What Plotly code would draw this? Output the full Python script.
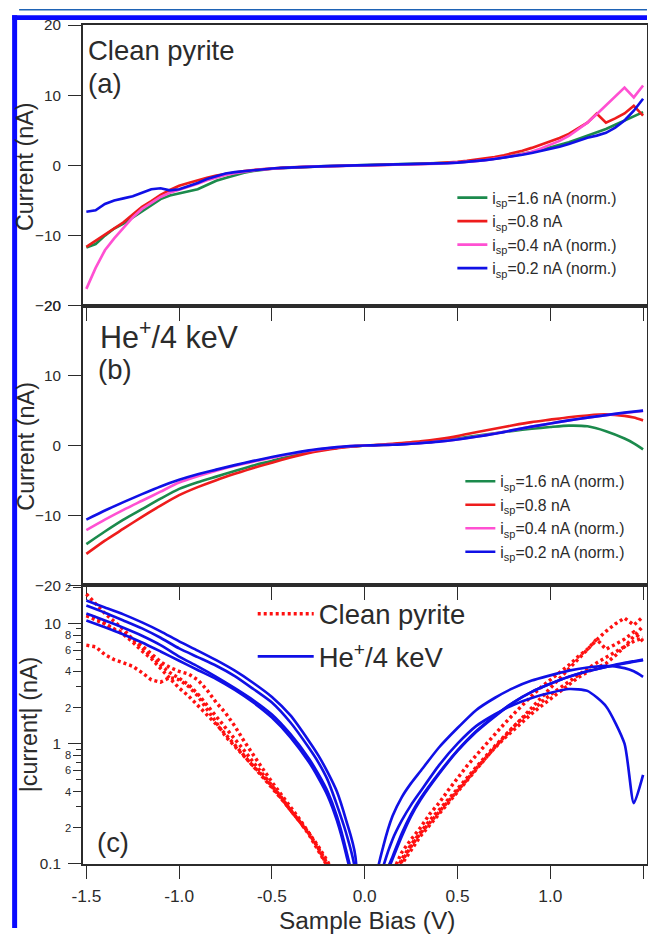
import math
import plotly.graph_objects as go

# ---------------- data ----------------
# Bias grid for the clean-surface spectra (V)
V_CLEAN = [-1.50, -1.45, -1.40, -1.35, -1.30, -1.25, -1.20, -1.15, -1.10, -1.05,
           -1.00, -0.95, -0.90, -0.85, -0.80, -0.75, -0.70, -0.65, -0.60, -0.55,
           -0.50, -0.45, -0.40, -0.35, -0.30, -0.25, -0.20, -0.15, -0.10, -0.05,
           0.00, 0.05, 0.10, 0.15, 0.20, 0.25, 0.30, 0.35, 0.40, 0.45,
           0.50, 0.55, 0.60, 0.65, 0.70, 0.75, 0.80, 0.85, 0.90, 0.95,
           1.00, 1.05, 1.10, 1.15, 1.20, 1.25, 1.30, 1.35, 1.40, 1.45, 1.50]

CLEAN_16 = [-11.7, -11.2, -10.0, -9.0, -8.3, -7.4, -6.5, -5.6, -4.8, -4.3,
            -4.0, -3.8, -3.4, -2.8, -2.2, -1.8, -1.4, -1.05, -0.8, -0.62,
            -0.48, -0.38, -0.3, -0.235, -0.18, -0.135, -0.095, -0.06, -0.033, -0.015,
            0.0, 0.02, 0.045, 0.075, 0.11, 0.145, 0.185, 0.23, 0.28, 0.345,
            0.42, 0.52, 0.64, 0.78, 0.95, 1.15, 1.38, 1.62, 1.9, 2.2,
            2.55, 2.9, 3.3, 3.75, 4.2, 4.7, 5.2, 5.8, 6.4, 7.1, 7.6]
CLEAN_08 = [-11.6, -10.7, -9.9, -8.9, -8.1, -7.0, -5.9, -5.1, -4.2, -3.5,
            -2.9, -2.5, -2.1, -1.75, -1.45, -1.2, -0.98, -0.8, -0.65, -0.53,
            -0.43, -0.35, -0.28, -0.225, -0.18, -0.14, -0.105, -0.072, -0.045, -0.02,
            0.0, 0.022, 0.05, 0.085, 0.125, 0.16, 0.2, 0.26, 0.32, 0.41,
            0.52, 0.65, 0.8, 0.98, 1.2, 1.45, 1.75, 2.1, 2.5, 2.95,
            3.4, 3.9, 4.5, 5.3, 6.1, 7.4, 6.1, 6.7, 7.4, 8.5, 7.1]
CLEAN_04 = [-17.6, -14.6, -12.1, -10.4, -8.9, -7.4, -6.2, -5.3, -4.5, -3.9,
            -3.5, -3.1, -2.6, -2.1, -1.7, -1.35, -1.1, -0.88, -0.7, -0.56,
            -0.45, -0.36, -0.28, -0.225, -0.175, -0.13, -0.095, -0.06, -0.033, -0.015,
            0.0, 0.018, 0.04, 0.07, 0.1, 0.13, 0.17, 0.21, 0.26, 0.32,
            0.4, 0.5, 0.62, 0.76, 0.93, 1.13, 1.36, 1.63, 1.95, 2.4,
            2.9, 3.5, 4.2, 5.1, 6.1, 7.3, 8.6, 9.9, 11.1, 9.7, 11.4]
CLEAN_02 = [-6.6, -6.4, -5.5, -5.0, -4.7, -4.4, -3.9, -3.4, -3.25, -3.55,
            -3.4, -3.0, -2.5, -1.95, -1.5, -1.15, -0.95, -0.8, -0.66, -0.54,
            -0.44, -0.35, -0.28, -0.225, -0.18, -0.135, -0.1, -0.065, -0.037, -0.016,
            0.0, 0.019, 0.042, 0.072, 0.105, 0.14, 0.18, 0.22, 0.27, 0.33,
            0.4, 0.5, 0.62, 0.76, 0.92, 1.1, 1.3, 1.52, 1.78, 2.05,
            2.35, 2.65, 3.05, 3.55, 3.95, 4.25, 4.65, 5.4, 6.4, 7.8, 9.5]

# Bias grid for the He+/4 keV irradiated spectra (V)
V_HE = [-1.5, -1.4, -1.3, -1.2, -1.1, -1.0, -0.9, -0.8, -0.7, -0.6,
        -0.5, -0.4, -0.3, -0.25, -0.2, -0.15, -0.1, -0.05, 0.0, 0.05,
        0.1, 0.15, 0.2, 0.25, 0.3, 0.4, 0.5, 0.6, 0.7, 0.8,
        0.9, 1.0, 1.1, 1.2, 1.3, 1.4, 1.45, 1.5]

HE_16 = [-14.1, -12.3, -10.6, -9.1, -7.6, -6.2, -5.25, -4.45, -3.65, -2.85,
         -2.2, -1.5, -0.92, -0.7, -0.5, -0.31, -0.18, -0.085, 0.0, 0.045,
         0.095, 0.16, 0.23, 0.31, 0.4, 0.66, 1.0, 1.4, 1.75, 2.1,
         2.4, 2.65, 2.85, 2.75, 2.05, 1.0, 0.32, -0.55]
HE_08 = [-15.5, -13.6, -11.9, -10.2, -8.6, -7.1, -5.95, -4.95, -4.05, -3.2,
         -2.45, -1.72, -1.05, -0.8, -0.58, -0.4, -0.23, -0.115, 0.0, 0.06,
         0.14, 0.25, 0.36, 0.47, 0.59, 0.93, 1.35, 1.9, 2.4, 2.9,
         3.35, 3.7, 4.05, 4.3, 4.45, 4.25, 4.0, 3.6]
HE_04 = [-12.1, -10.6, -9.2, -7.9, -6.6, -5.3, -4.4, -3.6, -2.9, -2.3,
         -1.75, -1.2, -0.75, -0.56, -0.4, -0.25, -0.13, -0.055, 0.0, 0.035,
         0.075, 0.115, 0.18, 0.26, 0.35, 0.57, 0.88, 1.27, 1.7, 2.2,
         2.7, 3.15, 3.6, 4.0, 4.35, 4.65, 4.8, 4.95]
HE_02 = [-10.6, -9.3, -8.1, -6.95, -5.85, -4.9, -4.1, -3.45, -2.8, -2.2,
         -1.65, -1.13, -0.7, -0.52, -0.37, -0.23, -0.12, -0.05, 0.0, 0.033,
         0.07, 0.11, 0.17, 0.25, 0.34, 0.56, 0.87, 1.25, 1.68, 2.2,
         2.7, 3.15, 3.6, 4.0, 4.35, 4.7, 4.85, 5.0]

SERIES_NAMES = ["i<sub>sp</sub>=1.6 nA (norm.)", "i<sub>sp</sub>=0.8 nA",
                "i<sub>sp</sub>=0.4 nA (norm.)", "i<sub>sp</sub>=0.2 nA (norm.)"]
SERIES_COLORS = ["#1b8a4c", "#ee1c1c", "#ff50d2", "#1010e6"]

X_TICKS = [-1.5, -1.0, -0.5, 0.0, 0.5, 1.0, 1.5]
X_TICKTEXT = ["-1.5", "-1.0", "-0.5", "0.0", "0.5", "1.0", "1.5"]
LIN_TICKS = [-20, -10, 0, 10, 20]
LOG_DECADES = [0.1, 1, 10]
LOG_DECADE_TEXT = ["0.1", "1", "10"]
LOG_SUB = [0.2, 0.4, 0.6, 0.8, 2, 4, 6, 8, 20]
LOG_SUB_TEXT = ["2", "4", "6", "8", "2", "4", "6", "8", "2"]
LOG_MINOR = [0.3, 0.5, 0.7, 0.9, 3, 5, 7, 9]

clean_sets = [CLEAN_16, CLEAN_08, CLEAN_04, CLEAN_02]
he_sets = [HE_16, HE_08, HE_04, HE_02]

# ---------------- page geometry ----------------
# Positions are written in output pixels of the 653 x 936 view.  The page
# keeps the default 8 px body margin and the whole page is fitted into the
# view, so one output pixel is 1/S page pixels.
VIEW_W, VIEW_H = 653, 936
BODY = 8
W, H = 648, 936
S = VIEW_H / (H + 2 * BODY)

PX_L, PX_R = 80, 644.5
A_TOP, A_BOT = 24, 305
B_TOP, B_BOT = 305, 585
C_TOP, C_BOT = 585, 864


def xp(t):
    return (t / S - BODY) / W


def yp(t):
    return 1 - (t / S - BODY) / H


def px(v):
    return v / S


FONT = "Arial, Liberation Sans, Helvetica, sans-serif"
INK = "#2b2b2b"

fig = go.Figure()

# (a) clean pyrite
for vals, name, col in zip(clean_sets, SERIES_NAMES, SERIES_COLORS):
    fig.add_trace(go.Scatter(x=V_CLEAN, y=vals, mode="lines", name=name,
                             line=dict(color=col, width=px(2.6)),
                             xaxis="x", yaxis="y", legend="legend"))

# (b) after He+ 4 keV
for vals, name, col in zip(he_sets, SERIES_NAMES, SERIES_COLORS):
    fig.add_trace(go.Scatter(x=V_HE, y=vals, mode="lines", name=name,
                             line=dict(color=col, width=px(2.6), shape="spline", smoothing=0.6),
                             xaxis="x2", yaxis="y2", legend="legend2"))

# (c) |current| on a log scale
for i, vals in enumerate(clean_sets):
    fig.add_trace(go.Scatter(x=V_CLEAN, y=[abs(v) for v in vals], mode="lines",
                             name="Clean pyrite", legendgroup="clean",
                             showlegend=(i == 0),
                             line=dict(color="#ff1010", width=px(3.4), dash="3px,3px"),
                             xaxis="x3", yaxis="y3", legend="legend3"))
for i, vals in enumerate(he_sets):
    fig.add_trace(go.Scatter(x=V_HE, y=[abs(v) for v in vals], mode="lines",
                             name="He<sup>+</sup>/4 keV", legendgroup="he",
                             showlegend=(i == 0),
                             line=dict(color="#1010e6", width=px(2.6), shape="spline",
                                       smoothing=0.6),
                             xaxis="x3", yaxis="y3", legend="legend3"))

# empty trace so the overlay axis carrying the labelled sub-decade ticks is drawn
fig.add_trace(go.Scatter(x=[None], y=[None], xaxis="x3", yaxis="y4", showlegend=False,
                         hoverinfo="skip"))

XR = [-1.518, 1.5186]
LOG_R = [-1, 1.317]
common_x = dict(range=XR, tickvals=X_TICKS, ticktext=X_TICKTEXT, ticks="outside",
                ticklen=px(13), tickwidth=px(1.3), tickcolor=INK, showline=True,
                linecolor=INK, linewidth=px(1.5), mirror=True, showgrid=False,
                zeroline=False, domain=[xp(PX_L), xp(PX_R)],
                tickfont=dict(family=FONT, size=px(17), color=INK))
common_y = dict(ticks="outside", ticklen=px(13), tickwidth=px(1.3), tickcolor=INK,
                showline=True, linecolor=INK, linewidth=px(1.5), mirror=True,
                showgrid=False, zeroline=False, ticklabelstandoff=4,
                tickfont=dict(family=FONT, size=px(15), color=INK))

LEG_FONT = px(15.5)
fig.update_layout(
    width=W, height=H,
    margin=dict(l=0, r=0, t=0, b=0),
    paper_bgcolor="white", plot_bgcolor="white",
    font=dict(family=FONT, color=INK),
    xaxis=dict(common_x, anchor="y", showticklabels=False),
    xaxis2=dict(common_x, anchor="y2", showticklabels=False),
    xaxis3=dict(common_x, anchor="y3", showticklabels=True, ticklabelstandoff=2),
    yaxis=dict(common_y, anchor="x", domain=[yp(A_BOT), yp(A_TOP)], range=[-20, 20],
               tickvals=LIN_TICKS),
    yaxis2=dict(common_y, anchor="x2", domain=[yp(B_BOT), yp(B_TOP)], range=[-20, 20],
                tickvals=LIN_TICKS),
    yaxis3=dict(common_y, anchor="x3", domain=[yp(C_BOT), yp(C_TOP)], type="log",
                range=LOG_R, tickvals=LOG_DECADES, ticktext=LOG_DECADE_TEXT,
                minor=dict(tickvals=LOG_MINOR, ticklen=px(5), ticks="outside",
                           tickcolor=INK, tickwidth=px(1.2))),
    yaxis4=dict(anchor="x3", overlaying="y3", domain=[yp(C_BOT), yp(C_TOP)], type="log",
                range=LOG_R, tickvals=LOG_SUB, ticks="outside", ticklen=px(9),
                tickwidth=px(1.2), tickcolor=INK, showticklabels=False, showline=False,
                showgrid=False, zeroline=False),
    legend=dict(x=xp(450), y=yp(180), xanchor="left", yanchor="top",
                bgcolor="rgba(0,0,0,0)", font=dict(family=FONT, size=LEG_FONT, color=INK),
                tracegroupgap=0, itemwidth=30),
    legend2=dict(x=xp(458), y=yp(464), xanchor="left", yanchor="top",
                 bgcolor="rgba(0,0,0,0)", font=dict(family=FONT, size=LEG_FONT, color=INK),
                 tracegroupgap=0, itemwidth=30),
    legend3=dict(x=xp(250), y=yp(589), xanchor="left", yanchor="top",
                 bgcolor="rgba(0,0,0,0)", font=dict(family=FONT, size=px(27), color=INK),
                 tracegroupgap=4, itemwidth=56),
)

ann = []


def label(text, x, y, size, **kw):
    ann.append(dict(text=text, x=xp(x), y=yp(y), xref="paper", yref="paper",
                    showarrow=False, font=dict(family=FONT, size=px(size), color=INK), **kw))


label("Clean pyrite", 83, 49, 27, xanchor="left", yanchor="middle")
label("(a)", 83, 82, 27, xanchor="left", yanchor="middle")
label("He<sup>+</sup>/4 keV", 95, 334, 30, xanchor="left", yanchor="middle")
label("(b)", 93, 369, 27, xanchor="left", yanchor="middle")
label("(c)", 92, 843, 27, xanchor="left", yanchor="middle")
label("Current (nA)", 22, 166, 23, textangle=-90, xanchor="center", yanchor="middle")
label("Current (nA)", 22, 446, 23, textangle=-90, xanchor="center", yanchor="middle")
label("|current| (nA)", 26, 724, 23, textangle=-90, xanchor="center", yanchor="middle")
label("Sample Bias (V)", 364, 921, 24, xanchor="center", yanchor="middle")

# small labels of the sub-decade ticks on the log axis
for v, t in zip(LOG_SUB, LOG_SUB_TEXT):
    ann.append(dict(text=t, x=xp(70), y=math.log10(v), xref="paper", yref="y3",
                    showarrow=False, xanchor="right", yanchor="middle",
                    font=dict(family=FONT, size=px(11), color=INK)))
fig.update_layout(annotations=ann)

# journal-style highlight frame
fig.update_layout(shapes=[
    dict(type="line", xref="paper", yref="paper", x0=xp(16), x1=1, y0=yp(8.6), y1=yp(8.6),
         line=dict(color="#1f63b5", width=px(1.6))),
    dict(type="rect", xref="paper", yref="paper", x0=xp(9), x1=xp(14), y0=0, y1=yp(14),
         fillcolor="#0a0aff", line=dict(width=0)),
    dict(type="rect", xref="paper", yref="paper", x0=xp(9), x1=1, y0=yp(19), y1=yp(14),
         fillcolor="#0a0aff", line=dict(width=0)),
])

fig.write_html("out.html")
